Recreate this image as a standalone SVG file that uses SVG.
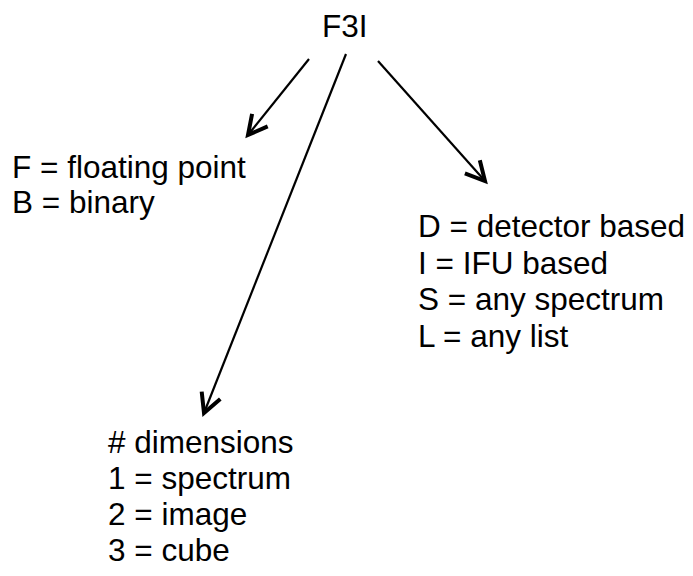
<svg xmlns="http://www.w3.org/2000/svg" width="693" height="576" viewBox="0 0 693 576">
<style>
text{font-family:"Liberation Sans",Arial,sans-serif;font-size:31.5px;fill:#000}
.c{stroke:#000;stroke-width:2.2;fill:none}
</style>
<defs>
<marker id="ah" markerUnits="userSpaceOnUse" viewBox="-25 -15 30 30" refX="0" refY="0" markerWidth="30" markerHeight="30" orient="auto">
<path d="M-19,-10 L0,0 L-19,10" fill="none" stroke="#000" stroke-width="4" stroke-linejoin="miter"/>
</marker>
</defs>
<rect width="693" height="576" fill="#fff"/>
<g id="connectors">
<line class="c" x1="309" y1="59" x2="248" y2="135" marker-end="url(#ah)"/>
<line class="c" x1="346" y1="54" x2="204" y2="413" marker-end="url(#ah)"/>
<line class="c" x1="378" y1="61" x2="485" y2="181" marker-end="url(#ah)"/>
</g>
<g id="root"><text x="322" y="37">F3I</text></g>
<g id="format"><text x="12" y="178">F = floating point</text><text x="12" y="213">B = binary</text></g>
<g id="type"><text x="418" y="237">D = detector based</text><text x="418" y="273.5">I = IFU based</text><text x="418" y="310">S = any spectrum</text><text x="418" y="346.5">L = any list</text></g>
<g id="dims"><text x="108" y="453"># dimensions</text><text x="108" y="489">1 = spectrum</text><text x="108" y="525">2 = image</text><text x="108" y="561">3 = cube</text></g>
</svg>
